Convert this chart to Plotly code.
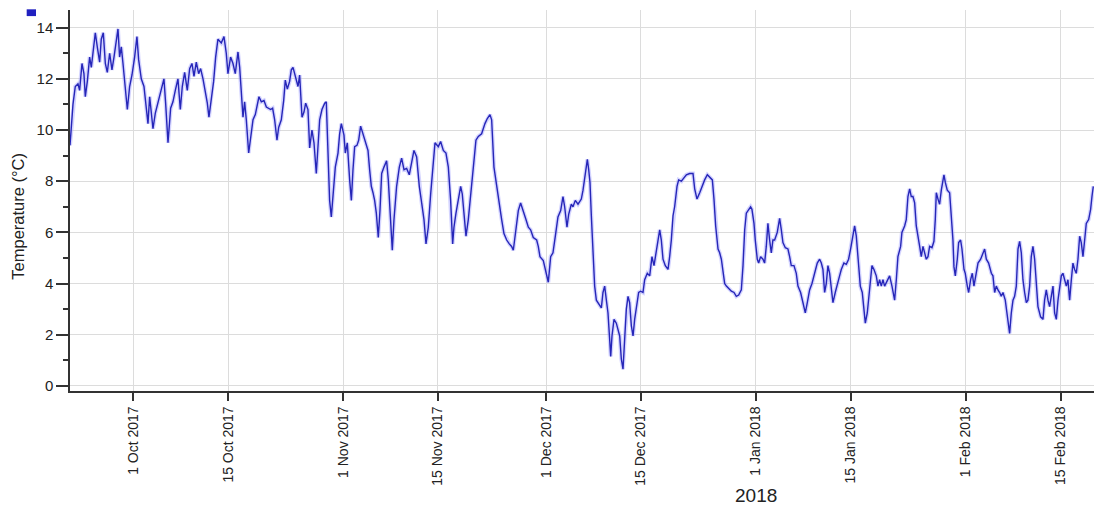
import pandas as pd
import plotly.graph_objects as go

# Days after 1 Oct 2017 and temperature (°C)
day_offset = [
    -9.35, -9.16, -8.91, -8.57, -8.17, -7.93, -7.58, -7.29, -7.09, -6.79,
    -6.45, -6.2, -5.96, -5.61, -5.32, -4.97, -4.73, -4.43, -4.13, -3.84,
    -3.49, -3.15, -2.85, -2.51, -2.26, -2.02, -1.77, -1.52, -1.18, -0.88,
    -0.54, -0.19, 0.2, 0.54, 0.79, 1.18, 1.58, 1.92, 2.17, 2.42,
    2.66, 2.91, 3.25, 3.65, 4.14, 4.53, 4.78, 5.13, 5.52, 5.86,
    6.21, 6.6, 6.95, 7.24, 7.59, 7.98, 8.33, 8.67, 8.97, 9.31,
    9.66, 9.95, 10.3, 10.64, 10.94, 11.18, 11.53, 11.87, 12.17, 12.51,
    13.0, 13.4, 13.74, 13.99, 14.38, 14.73, 15.07, 15.47, 15.72, 15.96,
    16.21, 16.45, 16.7, 17.05, 17.34, 17.69, 18.03, 18.33, 18.57, 18.92,
    19.31, 19.66, 20.0, 20.3, 20.59, 20.89, 21.23, 21.48, 21.87, 22.22,
    22.46, 22.76, 23.1, 23.35, 23.6, 23.94, 24.34, 24.58, 24.93, 25.22,
    25.47, 25.81, 26.06, 26.4, 26.7, 27.04, 27.29, 27.54, 27.88, 28.28,
    28.52, 28.77, 29.01, 29.26, 29.5, 29.85, 30.25, 30.49, 30.74, 31.13,
    31.33, 31.62, 31.97, 32.22, 32.46, 32.71, 33.05, 33.3, 33.59, 33.94,
    34.28, 34.68, 34.92, 35.17, 35.42, 35.66, 35.91,
    36.2, 36.45, 36.7, 37.04, 37.43, 37.68, 37.93, 38.27, 38.52, 38.91,
    39.31, 39.65, 40.0, 40.39, 40.78, 41.13, 41.47, 41.87, 42.26, 42.61,
    42.95, 43.25, 43.59, 43.94, 44.23, 44.58, 45.07, 45.41, 45.81, 46.2,
    46.55, 46.89, 47.19, 47.38, 47.68, 48.02, 48.37, 48.61, 48.86, 49.16,
    49.5, 49.85, 50.24, 50.63, 50.98, 51.47, 51.96, 52.31, 52.7, 52.95,
    53.29, 53.69, 54.08, 54.43, 54.77, 55.17, 55.56, 55.9, 56.15, 56.55,
    56.89, 57.23, 57.63, 58.02, 58.37, 58.71, 59.1, 59.6, 59.84, 60.09,
    60.58, 61.08, 61.32,
    61.67, 62.01, 62.36, 62.75, 63.15, 63.49, 63.74, 64.08, 64.33, 64.72,
    64.97, 65.31, 65.71,
    66.2, 66.45, 66.79, 67.09, 67.29, 67.48, 67.68, 67.93, 68.17, 68.42,
    68.76, 69.16, 69.4, 69.65, 69.9, 70.14, 70.39, 70.54, 70.73, 71.03,
    71.37, 71.62, 71.87, 72.11, 72.36, 72.6, 72.85, 73.1, 73.34, 73.59,
    73.84, 74.08, 74.33, 74.67, 74.97, 75.31, 75.56, 75.95, 76.3, 76.64,
    76.94, 77.28, 77.53, 77.78, 78.02, 78.27, 78.61, 79.01, 79.25, 79.5,
    79.75, 79.99, 80.34, 80.58, 80.98, 81.37, 81.72, 82.21, 82.7, 82.95,
    83.29, 83.69, 84.03, 84.42, 84.82, 85.16, 85.56, 85.8, 86.05, 86.4,
    86.64, 86.89, 87.13, 87.38, 87.63, 87.97, 88.37, 88.76, 89.1, 89.45,
    89.84, 90.09, 90.34, 90.58, 90.93,
    91.21, 91.41, 91.71, 91.9, 92.2, 92.4, 92.69, 93.04, 93.28, 93.53,
    93.77, 94.02, 94.27, 94.51, 94.76, 95.15, 95.5, 95.75, 95.99, 96.34,
    96.73, 96.98, 97.22, 97.62, 97.96, 98.21, 98.6, 98.95, 99.29, 99.59,
    99.93, 100.28, 100.67, 101.06, 101.41, 101.66, 101.9, 102.15, 102.39, 102.64,
    102.89, 103.13, 103.38, 103.72, 104.02, 104.36, 104.61, 105.0, 105.35, 105.69,
    105.99, 106.33, 106.58, 106.83, 107.07, 107.42, 107.71, 107.96, 108.16, 108.45,
    108.8, 109.14, 109.44, 109.78, 110.03, 110.27, 110.52, 110.77, 111.01, 111.41,
    111.75, 112.1, 112.49, 112.74, 112.98, 113.38, 113.57, 113.97, 114.21, 114.46,
    114.71, 114.95, 115.2, 115.45, 115.69,
    116.19, 116.43, 116.68, 116.93, 117.17, 117.42, 117.66, 118.01, 118.3, 118.5,
    118.65, 118.9, 119.14, 119.39, 119.63, 119.78, 119.98, 120.27, 120.62, 120.87,
    121.11, 121.26, 121.46, 121.75, 121.95, 122.24, 122.44, 122.74, 122.93, 123.23,
    123.43, 123.72, 123.97, 124.21, 124.56, 124.81, 125.2, 125.54, 125.79, 126.04,
    126.38, 126.78, 127.02, 127.27, 127.51, 127.76, 128.01, 128.25, 128.5, 128.84,
    129.14, 129.48, 129.73, 129.98, 130.22, 130.47, 130.72, 130.96, 131.21, 131.45,
    131.7, 131.95, 132.19, 132.44, 132.68, 132.93, 133.18, 133.42, 133.67, 134.06,
    134.41, 134.65, 134.9, 135.15, 135.39, 135.64, 135.89, 136.13, 136.38, 136.63,
    136.87, 137.12, 137.36, 137.61, 137.86, 138.1, 138.35, 138.6, 138.84, 139.09,
    139.33, 139.58, 139.83, 140.07, 140.32, 140.57, 140.81, 141.16, 141.45, 141.65,
    141.85,
]

temperature = [
    9.4, 10.0, 11.0, 11.7, 11.8, 11.55, 12.6, 12.2, 11.3, 11.9,
    12.85, 12.45, 13.0, 13.8, 13.25, 12.65, 13.55, 13.8, 12.6, 12.25,
    13.0, 12.35, 12.85, 13.5, 13.95, 12.85, 13.25, 12.6, 11.7, 10.8,
    11.7, 12.15, 12.85, 13.65, 12.75, 12.0, 11.7, 10.9, 10.25, 11.3,
    10.8, 10.05, 10.65, 11.05, 11.55, 12.0, 11.05, 9.5, 10.85, 11.1,
    11.55, 12.0, 10.8, 11.7, 12.25, 11.55, 12.4, 12.6, 12.1, 12.65,
    12.2, 12.4, 12.0, 11.55, 11.05, 10.5, 11.3, 11.9, 12.85, 13.55,
    13.4, 13.65, 13.0, 12.2, 12.85, 12.6, 12.2, 13.05, 12.45, 11.3,
    10.5, 11.1, 10.4, 9.1, 9.8, 10.4, 10.6, 11.05, 11.3, 11.1,
    11.15, 10.9, 10.85, 10.8, 10.85, 10.4, 9.6, 10.1, 10.4, 11.15,
    11.95, 11.6, 11.9, 12.35, 12.45, 12.1, 11.7, 12.15, 10.5, 10.7,
    11.05, 10.8, 9.3, 10.0, 9.5, 8.3, 9.2, 10.4, 10.8, 11.05,
    11.1, 9.35, 7.25, 6.6, 7.55, 8.55, 9.1, 9.85, 10.25, 9.8,
    9.1, 9.5, 8.05, 7.25, 8.45, 9.35, 9.4, 9.6, 10.15, 9.85,
    9.6, 9.2, 8.45, 7.8, 7.55, 7.25, 6.75,
    5.8, 6.85, 8.3, 8.55, 8.8, 8.05, 6.75, 5.3, 6.5, 7.8,
    8.55, 8.9, 8.45, 8.5, 8.25, 8.8, 9.2, 8.95, 7.8, 7.15,
    6.5, 5.55, 6.2, 7.5, 8.55, 9.5, 9.35, 9.55, 9.2, 9.1,
    8.55, 7.25, 5.55, 6.2, 6.75, 7.25, 7.8, 7.5, 6.6, 5.85,
    6.5, 7.5, 8.55, 9.6, 9.75, 9.85, 10.25, 10.45, 10.6, 10.4,
    8.55, 7.8, 7.0, 6.5, 5.95, 5.7, 5.55, 5.45, 5.3, 6.2,
    6.85, 7.15, 6.85, 6.5, 6.2, 6.1, 5.8, 5.7, 5.45, 5.05,
    4.9, 4.25, 4.05,
    5.05, 5.2, 5.85, 6.6, 6.85, 7.4, 7.0, 6.2, 6.7, 7.1,
    7.0, 7.25, 7.1,
    7.3, 7.65, 8.2, 8.85, 8.45, 7.95, 6.65, 5.2, 3.9, 3.35,
    3.2, 3.05, 3.65, 3.9, 3.35, 2.85, 1.8, 1.15, 1.95, 2.6,
    2.45, 2.2, 1.95, 1.05, 0.65, 1.8, 3.0, 3.5, 3.25, 2.35,
    1.95, 2.6, 3.0, 3.65, 3.7, 3.65, 4.15, 4.4, 4.3, 5.05,
    4.7, 5.2, 5.7, 6.1, 5.7, 4.95, 4.7, 4.55, 5.05, 5.7,
    6.65, 7.0, 7.8, 8.05, 8.0, 8.15, 8.25, 8.3, 8.3, 7.7,
    7.3, 7.55, 7.8, 8.05, 8.25, 8.15, 8.05, 7.3, 6.25, 5.35,
    5.2, 4.95, 4.4, 4.0, 3.9, 3.8, 3.7, 3.65, 3.5, 3.55,
    3.75, 4.7, 6.1, 6.75, 6.9,
    7.0, 6.9, 6.35, 5.7, 4.95, 4.8, 5.05, 4.95, 4.8, 5.45,
    6.35, 5.7, 5.2, 5.7, 5.7, 6.0, 6.55, 6.1, 5.6, 5.4,
    5.35, 5.05, 4.7, 4.7, 4.4, 3.9, 3.65, 3.25, 2.85, 3.25,
    3.75, 4.0, 4.4, 4.8, 4.95, 4.8, 4.55, 3.65, 4.0, 4.7,
    4.4, 3.9, 3.25, 3.65, 4.0, 4.3, 4.55, 4.8, 4.75, 4.95,
    5.35, 5.85, 6.25, 5.85, 4.95, 3.9, 3.65, 3.0, 2.45, 2.85,
    3.9, 4.7, 4.55, 4.3, 3.9, 4.15, 3.9, 4.15, 3.9, 4.15,
    4.3, 3.9, 3.35, 4.15, 5.05, 5.45, 6.0, 6.25, 6.5, 7.4,
    7.7, 7.4, 7.4, 7.15, 6.25,
    5.45, 5.05, 5.45, 5.2, 4.95, 5.05, 5.45, 5.4, 5.65, 6.5,
    7.55, 7.3, 7.1, 7.65, 8.15, 8.25, 7.95, 7.65, 7.55, 6.75,
    5.7, 4.65, 4.3, 4.95, 5.6, 5.7, 5.35, 4.55, 4.4, 3.9,
    3.65, 4.15, 4.4, 3.9, 4.4, 4.8, 4.95, 5.2, 5.35, 4.95,
    4.8, 4.4, 4.3, 3.65, 3.9, 3.75, 3.65, 3.5, 3.65, 3.35,
    2.7, 2.05, 2.85, 3.35, 3.5, 3.9, 5.35, 5.65, 5.2, 4.15,
    3.65, 3.25, 3.35, 3.9, 5.05, 5.45, 4.95, 3.9, 3.1, 2.7,
    2.6, 3.35, 3.75, 3.35, 3.1, 3.5, 3.9, 2.85, 2.6, 3.35,
    3.9, 4.3, 4.4, 4.15, 3.9, 4.15, 3.35, 4.15, 4.8, 4.55,
    4.4, 4.95, 5.85, 5.6, 5.05, 5.7, 6.35, 6.5, 6.9, 7.4,
    7.8,
]

assert len(day_offset) == len(temperature), (len(day_offset), len(temperature))

tick_dates = ["2017-10-01", "2017-10-15", "2017-11-01", "2017-11-15", "2017-12-01",
              "2017-12-15", "2018-01-01", "2018-01-15", "2018-02-01", "2018-02-15"]
tick_labels = ["1 Oct 2017", "15 Oct 2017", "1 Nov 2017", "15 Nov 2017", "1 Dec 2017",
               "15 Dec 2017", "1 Jan 2018", "15 Jan 2018", "1 Feb 2018", "15 Feb 2018"]
y_tick_vals = [0, 2, 4, 6, 8, 10, 12, 14]

base = pd.Timestamp("2017-10-01")
times = base + pd.to_timedelta(day_offset, unit="D")

FONT = "Arial, 'Liberation Sans', sans-serif"

fig = go.Figure()
# light halo under the line
fig.add_trace(go.Scatter(x=times, y=temperature, mode="lines",
                         line=dict(color="rgba(160,160,255,0.45)", width=4),
                         hoverinfo="skip", showlegend=False))
fig.add_trace(go.Scatter(x=times, y=temperature, mode="lines",
                         line=dict(color="#2626b8", width=1.4),
                         name="Temperature", showlegend=False))

fig.update_layout(
    width=1094, height=508,
    margin=dict(l=70, r=0, t=10, b=117),
    paper_bgcolor="white", plot_bgcolor="white",
    font=dict(family=FONT, color="#222"),
    xaxis=dict(
        range=[base + pd.Timedelta(days=-9.35), base + pd.Timedelta(days=141.95)],
        tickmode="array", tickvals=tick_dates, ticktext=tick_labels,
        tickangle=-90, tickfont=dict(size=14, color="#222"),
        ticks="outside", ticklen=8, tickwidth=1.5, tickcolor="#333",
        showgrid=True, gridcolor="#dcdcdc", gridwidth=1,
        showline=True, linecolor="#333", linewidth=1.5,
        zeroline=False,
    ),
    yaxis=dict(
        range=[-0.2, 14.69],
        tickmode="array", tickvals=y_tick_vals,
        tickfont=dict(size=15, color="#222"),
        ticks="outside", ticklen=12, tickwidth=1.5, tickcolor="#333",
        minor=dict(dtick=1, tick0=0, ticks="outside", ticklen=5, tickwidth=1.5,
                   tickcolor="#333", showgrid=False),
        showgrid=True, gridcolor="#dcdcdc", gridwidth=1,
        showline=True, linecolor="#333", linewidth=1.5,
        zeroline=False,
    ),
    annotations=[
        dict(text="Temperature (°C)", xref="paper", yref="paper",
             x=-0.0508, y=0.46, xanchor="center", yanchor="middle",
             textangle=-90, showarrow=False, font=dict(size=16.5, color="#222")),
        dict(text="2018", xref="x", yref="paper", x="2018-01-01", y=-0.273,
             xanchor="center", yanchor="middle", showarrow=False,
             font=dict(size=19, color="#222")),
    ],
    shapes=[
        dict(type="rect", xref="paper", yref="paper",
             x0=-0.0423, x1=-0.0332, y0=0.984, y1=1.0018,
             fillcolor="#2020c0", line=dict(width=0)),
    ],
)

fig.write_html("out.html")
